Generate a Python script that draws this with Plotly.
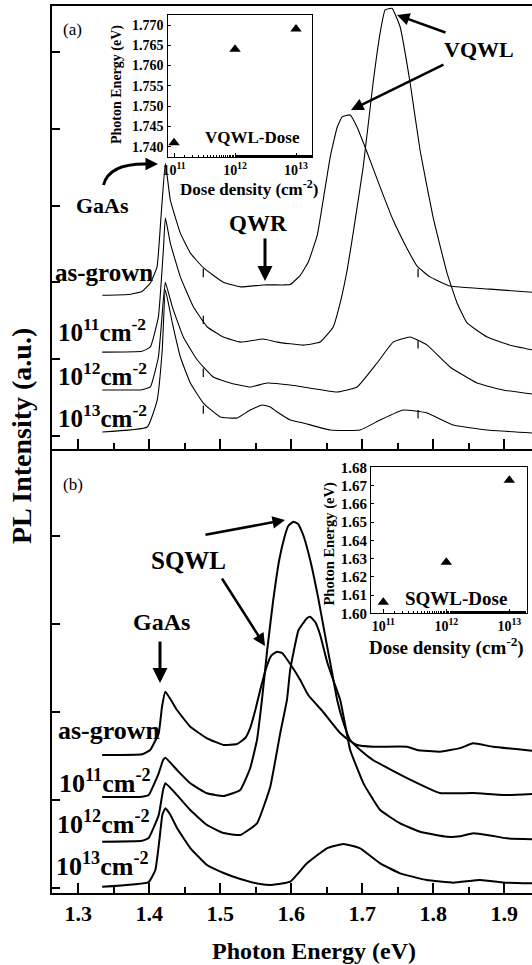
import plotly.graph_objects as go

# ---------------- data ----------------
# Panel (a): PL spectra, photon energy (eV) vs intensity (a.u., offset)
a_asg_E = [1.334, 1.370, 1.390, 1.4017, 1.4111, 1.4167, 1.4228, 1.4298, 1.4439, 1.458, 1.4762, 1.5044, 1.5283,
           1.5606, 1.5887, 1.5986, 1.6127, 1.6239, 1.6366, 1.645, 1.6549, 1.6647, 1.6717, 1.683, 1.6928, 1.7069,
           1.7252, 1.7435, 1.7603, 1.7772, 1.7955, 1.8236, 1.8799, 1.939]
a_asg_I = [1.83, 1.84, 1.88, 1.99, 2.20, 2.86, 3.55, 3.07, 2.64, 2.38, 2.19, 2.00, 1.94,
           1.965, 1.965, 1.97, 2.09, 2.26, 2.61, 3.07, 3.63, 4.02, 4.155, 4.18, 4.02, 3.69,
           3.24, 2.81, 2.49, 2.21, 2.07, 1.95, 1.91, 1.87]

a_d11_E = [1.334, 1.390, 1.4017, 1.413, 1.420, 1.4228, 1.4298, 1.4439, 1.4622, 1.4819, 1.5044, 1.5283, 1.5606,
           1.5803, 1.6169, 1.6408, 1.6591, 1.6689, 1.6788, 1.6872, 1.7013, 1.7153, 1.7252, 1.7322, 1.742, 1.7533,
           1.7674, 1.7814, 1.7997, 1.8194, 1.8335, 1.8476, 1.8757, 1.9081, 1.939]
a_d11_I = [1.09, 1.10, 1.157, 1.548, 2.42, 2.84, 2.51, 2.07, 1.68, 1.417, 1.287, 1.22, 1.26,
           1.22, 1.18, 1.22, 1.417, 1.73, 2.16, 2.64, 3.50, 4.60, 5.25, 5.55, 5.57, 5.33,
           4.60, 3.72, 2.85, 2.12, 1.73, 1.47, 1.287, 1.18, 1.12]

a_d12_E = [1.334, 1.390, 1.4017, 1.413, 1.420, 1.4228, 1.4326, 1.448, 1.4678, 1.4903, 1.5142, 1.5423, 1.5662,
           1.5986, 1.6169, 1.6647, 1.6928, 1.7209, 1.7435, 1.7674, 1.7913, 1.8236, 1.8616, 1.8982, 1.939]
a_d12_I = [0.596, 0.60, 0.635, 1.026, 1.77, 2.00, 1.68, 1.287, 0.987, 0.765, 0.687, 0.635, 0.687,
           0.661, 0.635, 0.57, 0.635, 0.948, 1.22, 1.287, 1.18, 0.896, 0.687, 0.596, 0.544]

a_d13_E = [1.334, 1.3973, 1.4113, 1.4184, 1.4228, 1.4326, 1.4439, 1.458, 1.4762, 1.5001, 1.524, 1.5423, 1.5592,
           1.5705, 1.5803, 1.5986, 1.6169, 1.6549, 1.697, 1.7252, 1.7575, 1.7913, 1.8279, 1.8757, 1.939]
a_d13_I = [0.048, 0.113, 0.465, 1.117, 1.90, 1.47, 1.026, 0.687, 0.426, 0.244, 0.231, 0.335, 0.40,
           0.374, 0.309, 0.205, 0.166, 0.074, 0.074, 0.205, 0.335, 0.296, 0.14, 0.074, 0.035]

# detector glitches (short vertical spikes) seen on the panel (a) spectra
a_spike_E = [1.4762, 1.4762, 1.4762, 1.4762, 1.7786, 1.7786, 1.7786]
a_spike_I = [2.12, 1.51, 0.82, 0.34, 2.12, 1.19, 0.28]

# Panel (b)
b_asg_E = [1.3338, 1.390, 1.4015, 1.4134, 1.4181, 1.4228, 1.4392, 1.4579, 1.4814, 1.5048, 1.5236, 1.5353, 1.5423,
           1.5494, 1.5564, 1.5648, 1.5719, 1.5799, 1.5873, 1.5986, 1.6127, 1.6239, 1.645, 1.6689, 1.683, 1.6928,
           1.7153, 1.7631, 1.7772, 1.8096, 1.8377, 1.856, 1.8841, 1.939]
b_asg_I = [1.512, 1.52, 1.569, 1.758, 2.06, 2.23, 2.023, 1.833, 1.702, 1.626, 1.637, 1.705, 1.82,
           2.02, 2.25, 2.50, 2.64, 2.684, 2.669, 2.544, 2.363, 2.193, 2.00, 1.762, 1.671, 1.626,
           1.606, 1.606, 1.569, 1.55, 1.59, 1.645, 1.606, 1.561]

b_d11_E = [1.3338, 1.390, 1.3993, 1.4134, 1.4196, 1.4228, 1.4392, 1.4579, 1.4814, 1.5048, 1.5283, 1.5423, 1.5518,
           1.5588, 1.5662, 1.5747, 1.5831, 1.5902, 1.5958, 1.6032, 1.6098, 1.6169, 1.6267, 1.638, 1.6478, 1.6563,
           1.6647, 1.6732, 1.683, 1.6971, 1.7153, 1.7631, 1.8096, 1.856, 1.9038, 1.939]
b_d11_I = [1.036, 1.04, 1.058, 1.305, 1.455, 1.482, 1.342, 1.191, 1.078, 1.047, 1.115, 1.365, 1.682,
           2.137, 2.704, 3.271, 3.725, 3.975, 4.11, 4.159, 4.133, 4.008, 3.725, 3.294, 2.863, 2.50,
           2.137, 1.887, 1.682, 1.569, 1.455, 1.251, 1.081, 1.081, 1.058, 1.07]

b_d12_E = [1.3338, 1.390, 1.3993, 1.4134, 1.4196, 1.4228, 1.4392, 1.4579, 1.4814, 1.5048, 1.5283, 1.5518, 1.5705,
           1.5845, 1.594, 1.5986, 1.6103, 1.6221, 1.6267, 1.6338, 1.6408, 1.6506, 1.6591, 1.669, 1.676, 1.683,
           1.7017, 1.7252, 1.7533, 1.7814, 1.819, 1.8377, 1.8564, 1.8799, 1.9033, 1.939]
b_d12_I = [0.529, 0.54, 0.57, 0.83, 1.115, 1.191, 1.058, 0.888, 0.718, 0.627, 0.605, 0.737, 1.153,
           1.758, 2.137, 2.48, 2.93, 3.063, 3.081, 3.021, 2.874, 2.567, 2.363, 2.137, 1.853, 1.569,
           1.191, 0.888, 0.737, 0.642, 0.585, 0.59, 0.625, 0.60, 0.567, 0.556]

b_d13_E = [1.3338, 1.3993, 1.4087, 1.4144, 1.4186, 1.4228, 1.4298, 1.4392, 1.4579, 1.4814, 1.5048, 1.5283, 1.5564,
           1.5751, 1.5986, 1.6221, 1.6502, 1.6736, 1.697, 1.7252, 1.7533, 1.7908, 1.8283, 1.8658, 1.9033, 1.939]
b_d13_I = [0.018, 0.071, 0.208, 0.548, 0.834, 0.908, 0.834, 0.684, 0.457, 0.264, 0.174, 0.106, 0.049,
           0.040, 0.075, 0.284, 0.454, 0.503, 0.454, 0.284, 0.170, 0.094, 0.064, 0.094, 0.064, 0.057]

# Insets: peak energy vs implantation dose
dose = [1e11, 1e12, 1e13]
vqwl_peak = [1.741, 1.764, 1.769]
sqwl_peak = [1.606, 1.628, 1.673]

x_ticks = [1.3, 1.4, 1.5, 1.6, 1.7, 1.8, 1.9]
x_ticktext = ["1.3", "1.4", "1.5", "1.6", "1.7", "1.8", "1.9"]
inset_a_yticks = [1.740, 1.745, 1.750, 1.755, 1.760, 1.765, 1.770]
inset_b_yticks = [1.60, 1.61, 1.62, 1.63, 1.64, 1.65, 1.66, 1.67, 1.68]
dose_ticktext = ["10<sup>11</sup>", "10<sup>12</sup>", "10<sup>13</sup>"]

# ---------------- layout geometry ----------------
W, H = 532, 965
L, R, T, B = 52, 0, 6, 72
PW, PH = W - L - R, H - T - B
FONT = "Liberation Serif"


def px(x):
    return (x - L) / PW


def py(y):
    return (H - B - y) / PH


fig = go.Figure()

line_a = dict(color="black", width=1.1, shape="spline", smoothing=0.35)
line_b = dict(color="black", width=2, shape="spline", smoothing=0.35)
for E, I in [(a_asg_E, a_asg_I), (a_d11_E, a_d11_I), (a_d12_E, a_d12_I), (a_d13_E, a_d13_I)]:
    fig.add_trace(go.Scatter(x=E, y=I, mode="lines", line=line_a, xaxis="x2", yaxis="y2",
                             showlegend=False, hoverinfo="skip"))
fig.add_trace(go.Scatter(x=a_spike_E, y=a_spike_I, mode="markers", xaxis="x2", yaxis="y2",
                         marker=dict(symbol="line-ns", size=6, line=dict(color="black", width=1.2)),
                         showlegend=False, hoverinfo="skip"))
for E, I in [(b_asg_E, b_asg_I), (b_d11_E, b_d11_I), (b_d12_E, b_d12_I), (b_d13_E, b_d13_I)]:
    fig.add_trace(go.Scatter(x=E, y=I, mode="lines", line=line_b, xaxis="x", yaxis="y",
                             showlegend=False, hoverinfo="skip"))

mk = dict(symbol="triangle-up", size=10, color="black")
fig.add_trace(go.Scatter(x=dose, y=vqwl_peak, mode="markers", marker=mk, xaxis="x3", yaxis="y3",
                         showlegend=False))
fig.add_trace(go.Scatter(x=dose, y=sqwl_peak, mode="markers", marker=mk, xaxis="x4", yaxis="y4",
                         showlegend=False))

split = py(449.3)
xr = [1.2632, 1.939]
tickfont_main = dict(family=FONT, size=22, color="black", weight="bold")
common_x = dict(range=xr, tickvals=x_ticks, ticks="inside", ticklen=10, tickwidth=1.5, tickcolor="black",
                showline=True, linewidth=2, linecolor="black", showgrid=False, zeroline=False,
                minor=dict(ticks="inside", dtick=0.05, tick0=1.3, ticklen=6, tickwidth=1.5, tickcolor="black",
                           showgrid=False))
common_y = dict(ticks="inside", ticklen=8, tickwidth=1.5, tickcolor="black", showticklabels=False,
                showline=True, linewidth=2, linecolor="black", showgrid=False, zeroline=False)

inset_tickfont = dict(family=FONT, size=14, color="black", weight="bold")
fig.update_layout(
    width=W, height=H, margin=dict(l=L, r=R, t=T, b=B),
    paper_bgcolor="white", plot_bgcolor="white", showlegend=False,
    xaxis=dict(domain=[0, 1], anchor="y", ticktext=x_ticktext, tickfont=tickfont_main, **common_x),
    yaxis=dict(domain=[0, split], anchor="x", range=[-0.053, 4.980], tickvals=[0, 1, 2, 3, 4], **common_y),
    xaxis2=dict(domain=[0, 1], anchor="y2", showticklabels=False, mirror=True, **common_x),
    yaxis2=dict(domain=[split, 1], anchor="x2", range=[-0.177, 5.60], tickvals=[0, 1, 2, 3, 4, 5], **common_y),
    xaxis3=dict(domain=[px(167.5), px(312.3)], anchor="y3", type="log", range=[10.893, 13.267],
                tickvals=dose, ticktext=dose_ticktext, ticks="inside", ticklen=4, tickcolor="black",
                tickfont=inset_tickfont, showline=True, mirror=True, linewidth=1.2, linecolor="black",
                showgrid=False, zeroline=False,
                minor=dict(ticks="inside", ticklen=2, tickcolor="black", showgrid=False)),
    yaxis3=dict(domain=[py(156.7), py(15)], anchor="x3", range=[1.73753, 1.77247],
                tickvals=inset_a_yticks, ticktext=["%.3f" % v for v in inset_a_yticks],
                ticks="inside", ticklen=3, tickcolor="black", tickfont=inset_tickfont,
                showline=True, mirror=True, linewidth=1.2, linecolor="black", showgrid=False, zeroline=False),
    xaxis4=dict(domain=[px(371), px(526.7)], anchor="y4", type="log", range=[10.805, 13.276],
                tickvals=dose, ticktext=dose_ticktext, ticks="inside", ticklen=4, tickcolor="black",
                tickfont=inset_tickfont, showline=True, mirror=True, linewidth=1.2, linecolor="black",
                showgrid=False, zeroline=False,
                minor=dict(ticks="inside", ticklen=2, tickcolor="black", showgrid=False)),
    yaxis4=dict(domain=[py(613.3), py(466.7)], anchor="x4", range=[1.600, 1.6804],
                tickvals=inset_b_yticks, ticktext=["%.2f" % v for v in inset_b_yticks],
                ticks="inside", ticklen=3, tickcolor="black", tickfont=dict(inset_tickfont, size=15),
                showline=True, mirror=True, linewidth=1.2, linecolor="black", showgrid=False, zeroline=False),
)

ann = []


def text(x, y, s, size, bold=True, angle=0, xanchor="center"):
    ann.append(dict(x=px(x), y=py(y), xref="paper", yref="paper", text=s, showarrow=False,
                    xanchor=xanchor, yanchor="middle", textangle=angle,
                    font=dict(family=FONT, size=size, color="black", weight="bold" if bold else "normal")))


def arrow(x0, y0, x1, y1, width=2.5, size=1.0):
    # tail (x0,y0) -> tip (x1,y1) in pixels
    ann.append(dict(x=px(x1), y=py(y1), xref="paper", yref="paper", ax=x0 - x1, ay=y0 - y1,
                    text="", showarrow=True, arrowhead=2, arrowsize=size, arrowwidth=width,
                    arrowcolor="black", standoff=0, startstandoff=0))


# axis titles
text(22, 436, "PL Intensity (a.u.)", 28, angle=-90)
text(313.5, 951, "Photon Energy (eV)", 24)

# panel (a)
text(72, 29, "(a)", 17, bold=False)
text(479, 49, "VQWL", 22)
arrow(447, 33, 397, 15)
arrow(445, 64, 351, 110)
text(102, 206, "GaAs", 22)
text(258, 223, "QWR", 23)
arrow(265, 237, 265, 281, width=3)
text(104, 272, "as-grown", 25)
text(102, 330, "10<sup>11</sup>cm<sup>-2</sup>", 25)
text(102, 374, "10<sup>12</sup>cm<sup>-2</sup>", 25)
text(102, 416, "10<sup>13</sup>cm<sup>-2</sup>", 25)
arrow(146, 164, 158, 164, width=2.5)

# inset (a) texts
text(117, 85, "Photon Energy (eV)", 14, angle=-90)
text(249, 188, "Dose density (cm<sup>-2</sup>)", 17)
text(252, 137.5, "VQWL-Dose", 17)

# panel (b)
text(73, 484, "(b)", 17, bold=False)
text(188, 560, "SQWL", 25)
arrow(204, 535, 285, 520)
arrow(221, 577, 265, 646)
text(161, 622, "GaAs", 24)
arrow(160, 640, 160, 683, width=3)
text(109.5, 731, "as-grown", 26)
text(105, 781, "10<sup>11</sup>cm<sup>-2</sup>", 26)
text(103.5, 822, "10<sup>12</sup>cm<sup>-2</sup>", 26)
text(102.5, 864, "10<sup>13</sup>cm<sup>-2</sup>", 26)

# inset (b) texts
text(329, 544.5, "Photon Energy (eV)", 14.5, angle=-90)
text(446.7, 646.7, "Dose density (cm<sup>-2</sup>)", 19)
text(455.5, 598, "SQWL-Dose", 19)

fig.update_layout(annotations=ann)

# curved GaAs arrow shaft in panel (a)
fig.add_shape(type="path", xref="paper", yref="paper",
              path="M %f,%f Q %f,%f %f,%f" % (px(103.5), py(185), px(109), py(163), px(148), py(164)),
              line=dict(color="black", width=3))

fig.write_html("out.html")
